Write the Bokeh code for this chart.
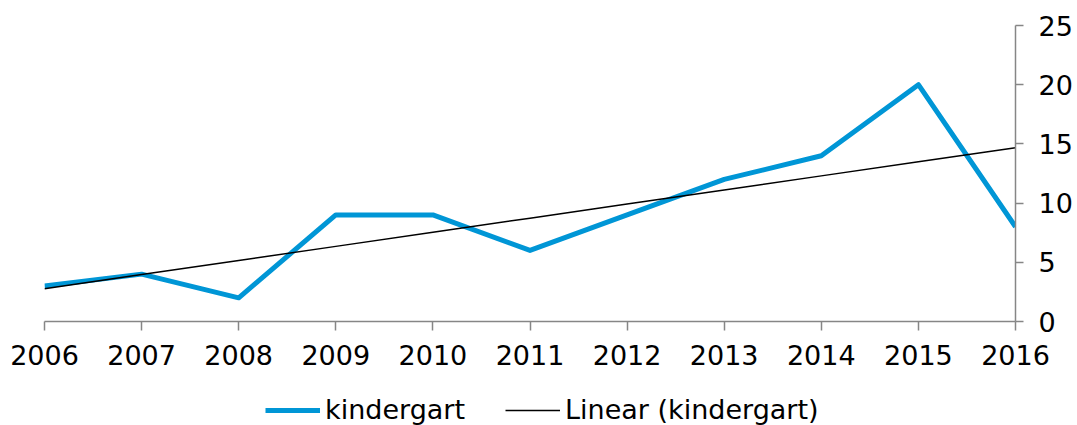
import numpy as np
from bokeh.plotting import figure
from bokeh.layouts import column
from bokeh.models import Range1d, LinearAxis, FixedTicker, Legend, LegendItem
from bokeh.embed import file_html
from bokeh.resources import INLINE

years = [2006, 2007, 2008, 2009, 2010, 2011, 2012, 2013, 2014, 2015, 2016]
kindergart = [3, 4, 2, 9, 9, 6, 9, 12, 14, 20, 8]
y_ticks = [0, 5, 10, 15, 20, 25]
series_labels = ["kindergart", "Linear (kindergart)"]

# Linear trend (least squares), as in the spreadsheet "Linear" trendline
coef = np.polyfit(years, kindergart, 1)
trend = list(np.polyval(coef, years))

FONT = "DejaVu Sans"
AXIS_COLOR = "#868686"
BLUE = "#0096D6"

p = figure(width=1077, height=393, output_backend="svg", toolbar_location=None,
           x_range=Range1d(2006, 2016), y_range=Range1d(0, 25),
           x_axis_location=None, y_axis_location=None,
           min_border_left=44, min_border_right=62, min_border_top=25, min_border_bottom=72)
p.outline_line_color = None
p.xgrid.visible = False
p.ygrid.visible = False

xa = LinearAxis(ticker=FixedTicker(ticks=years))
xa.major_tick_in = 0
xa.major_tick_out = 9
xa.minor_tick_line_color = None
xa.axis_line_color = AXIS_COLOR
xa.major_tick_line_color = AXIS_COLOR
xa.axis_line_width = 1.5
xa.major_tick_line_width = 1.5
xa.major_label_text_font = FONT
xa.major_label_text_font_size = "27px"
xa.major_label_text_color = "black"
xa.major_label_standoff = 14
p.add_layout(xa, "below")

ya = LinearAxis(ticker=FixedTicker(ticks=y_ticks))
ya.major_tick_in = 0
ya.major_tick_out = 8
ya.minor_tick_line_color = None
ya.axis_line_color = AXIS_COLOR
ya.major_tick_line_color = AXIS_COLOR
ya.axis_line_width = 1.5
ya.major_tick_line_width = 1.5
ya.major_label_text_font = FONT
ya.major_label_text_font_size = "27px"
ya.major_label_text_color = "black"
ya.major_label_standoff = 15
p.add_layout(ya, "right")

p.line(years, kindergart, line_color=BLUE, line_width=5, line_join="round")
p.line(years, trend, line_color="black", line_width=1.5)

# Legend strip below the chart (its data lie outside its view, only the legend shows)
lg = figure(width=1077, height=32, output_backend="svg", toolbar_location=None,
            x_range=Range1d(0, 1), y_range=Range1d(0, 1),
            x_axis_location=None, y_axis_location=None,
            min_border_left=44, min_border_right=62, min_border_top=0, min_border_bottom=0)
lg.outline_line_color = None
lg.xgrid.visible = False
lg.ygrid.visible = False
k1 = lg.line(years, kindergart, line_color=BLUE, line_width=5)
k2 = lg.line(years, trend, line_color="black", line_width=1.5)

legend = Legend(items=[LegendItem(label=series_labels[0], renderers=[k1]),
                       LegendItem(label=series_labels[1], renderers=[k2])],
                location=(221, 0), orientation="horizontal")
legend.border_line_color = None
legend.background_fill_alpha = 0
legend.padding = 0
legend.margin = 0
legend.spacing = 40
legend.glyph_width = 55
legend.glyph_height = 24
legend.label_height = 24
legend.label_standoff = 5
legend.label_text_font = FONT
legend.label_text_font_size = "27px"
legend.label_text_color = "black"
lg.add_layout(legend, "center")

layout = column(p, lg, spacing=0)
open("out.html", "w").write(file_html(layout, INLINE))
